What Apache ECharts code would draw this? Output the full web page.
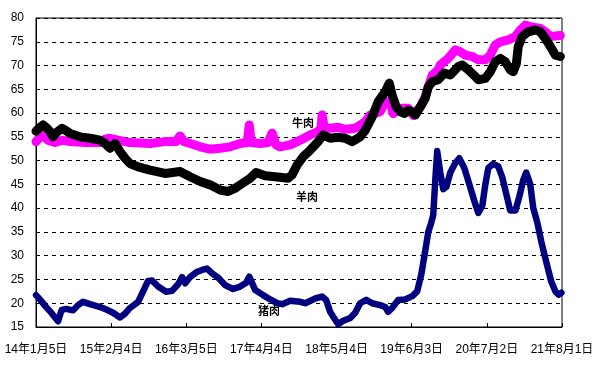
<!DOCTYPE html>
<html><head><meta charset="utf-8">
<script src="https://cdn.jsdelivr.net/npm/echarts@6/dist/echarts.min.js"></script>
<style>html,body{margin:0;padding:0;background:#fff}#c{width:612px;height:369px}</style>
</head><body><div id="c"></div>
<script>
// day offsets from 2014-01-05
const startDate = Date.UTC(2014, 0, 5);
const xTickInterval = 395; // days
const xMax = 2765;
const yTicks = [15, 80, 5];

const beefDays = [0,32,63,100,137,179,258,337,363,389,431,494,600,678,736,757,778,810,863,915,968,1020,1073,1110,1121,1131,1178,1220,1241,1262,1283,1336,1389,1441,1483,1499,1504,1515,1546,1589,1625,1678,1731,1757,1783,1809,1836,1862,1878,1899,1925,1957,1983,2020,2046,2062,2083,2114,2125,2167,2204,2230,2256,2293,2325,2362,2388,2414,2441,2483,2520,2546,2572,2598,2651,2677,2704,2756];
const beefVals = [54.0,55.4,54.3,53.8,54.3,54.0,53.8,53.8,54.5,54.7,54.3,53.8,53.6,54.0,54.0,55.2,54.0,53.6,52.9,52.4,52.6,52.9,53.6,53.8,57.5,53.8,53.6,53.8,55.8,53.3,52.9,53.3,54.3,55.4,56.1,57.0,59.6,57.0,56.8,57.0,56.6,56.8,58.2,59.6,59.9,60.3,62.4,62.4,59.9,60.6,61.0,61.0,59.5,61.3,63.4,65.5,68.0,69.1,70.1,71.5,73.3,72.9,72.2,71.9,71.2,71.2,72.2,74.3,75.0,75.4,76.1,77.5,78.5,78.2,77.8,77.1,76.1,76.3];

const muttonDays = [0,21,37,58,74,89,110,137,158,179,231,284,337,363,389,416,442,468,494,537,600,678,757,810,863,915,968,1010,1047,1073,1126,1157,1205,1283,1325,1346,1373,1404,1441,1483,1510,1546,1589,1625,1662,1704,1731,1767,1799,1836,1857,1872,1894,1915,1936,1957,1978,1994,2020,2046,2062,2083,2114,2146,2178,2220,2241,2272,2309,2325,2362,2388,2414,2441,2467,2493,2509,2525,2535,2556,2588,2625,2651,2677,2704,2730,2756];
const muttonVals = [56.2,57.0,57.5,56.8,56.1,55.0,56.0,56.8,56.3,55.7,55.0,54.7,54.3,53.6,52.6,53.6,51.9,50.5,49.4,48.7,48.0,47.3,47.7,46.6,45.6,44.9,43.8,43.5,44.2,44.9,46.3,47.5,46.8,46.5,46.3,47.0,49.1,50.8,52.2,54.0,55.4,54.7,54.9,54.7,54.0,55.0,56.4,59.2,62.4,64.5,66.3,63.8,61.3,60.3,59.9,60.6,60.3,59.6,61.3,63.1,65.5,66.6,67.0,68.4,68.0,69.8,70.1,69.1,67.7,67.0,67.3,68.7,70.8,71.5,70.8,69.1,68.7,70.4,74.0,76.1,77.1,77.5,77.1,75.7,74.0,72.2,71.9];

const porkDays = [0,21,47,74,100,116,135,158,195,221,247,284,337,379,405,442,468,494,537,563,589,610,642,684,715,747,768,784,810,842,873,899,926,957,994,1036,1073,1105,1121,1152,1194,1231,1268,1294,1336,1389,1415,1468,1504,1525,1546,1573,1589,1615,1652,1678,1704,1736,1767,1809,1836,1851,1872,1904,1941,1978,2004,2025,2046,2062,2078,2088,2099,2109,2125,2141,2157,2178,2204,2225,2251,2278,2304,2325,2346,2362,2378,2404,2430,2451,2472,2493,2520,2541,2562,2577,2598,2614,2635,2656,2677,2693,2709,2730,2746,2762];
const porkVals = [21.7,20.8,19.5,18.3,17.0,16.2,18.6,18.8,18.5,19.6,20.3,19.8,19.2,18.5,18.0,17.0,17.8,19.0,20.3,22.5,24.7,24.8,23.5,22.4,22.6,24.0,25.5,24.2,25.5,26.5,27.0,27.3,26.3,25.4,23.8,23.0,23.5,24.3,25.6,22.8,21.7,20.8,20.0,19.8,20.5,20.3,20.0,21.0,21.4,20.7,18.2,16.5,15.6,16.3,16.9,18.0,20.0,20.7,20.0,19.6,19.2,18.2,19.0,20.7,20.8,21.5,22.5,26.0,31.0,35.0,37.0,38.5,46.0,52.0,47.5,44.0,44.5,47.5,49.5,50.5,48.5,45.0,41.5,39.0,40.5,45.0,48.5,49.3,48.8,46.5,43.0,39.5,39.5,42.5,46.0,47.5,45.0,40.0,37.0,33.0,29.5,27.0,24.5,22.5,21.8,22.2];

const seriesNames = ['牛肉', '羊肉', '猪肉'];

function pairs(d, v) { return d.map((x, i) => [x, v[i]]); }
function fmtDate(val) {
  const dt = new Date(startDate + val * 86400000);
  const yy = String(dt.getUTCFullYear()).slice(2);
  return yy + '年' + (dt.getUTCMonth() + 1) + '月' + dt.getUTCDate() + '日';
}

const chart = echarts.init(document.getElementById('c'), null, {renderer: 'canvas'});
const labelFont = "'Liberation Sans Narrow','Liberation Sans','Noto Sans CJK SC',sans-serif";
chart.setOption({
  animation: false,
  backgroundColor: '#fff',
  grid: {left: 36, right: 50, top: 18, bottom: 42, show: true, borderColor: '#000', borderWidth: 1, backgroundColor: 'transparent'},
  xAxis: {
    type: 'value', min: 0, max: xMax, interval: xTickInterval,
    axisLine: {lineStyle: {color: '#000', width: 1}},
    axisTick: {show: true, inside: true, length: 4, lineStyle: {color: '#000'}},
    splitLine: {show: false},
    axisLabel: {formatter: fmtDate, color: '#000', fontSize: 12, fontFamily: labelFont, margin: 17}
  },
  yAxis: {
    type: 'value', min: yTicks[0], max: yTicks[1], interval: yTicks[2],
    axisLine: {show: true, lineStyle: {color: '#000', width: 1}},
    axisTick: {show: false},
    splitLine: {show: true, lineStyle: {color: '#000', type: [4, 4], width: 1}},
    axisLabel: {color: '#000', fontSize: 12, fontFamily: labelFont, margin: 12}
  },
  series: [
    {name: seriesNames[0], type: 'line', data: pairs(beefDays, beefVals), showSymbol: false, symbol: 'none',
     lineStyle: {color: '#FF00FF', width: 9, join: 'round', cap: 'round'}, z: 2},
    {name: seriesNames[1], type: 'line', data: pairs(muttonDays, muttonVals), showSymbol: false, symbol: 'none',
     lineStyle: {color: '#000000', width: 9, join: 'round', cap: 'round'}, z: 3},
    {name: seriesNames[2], type: 'line', data: pairs(porkDays, porkVals), showSymbol: false, symbol: 'none',
     lineStyle: {color: '#000080', width: 6.5, join: 'round', cap: 'round'}, z: 4}
  ],
  graphic: [
    {type: 'text', left: 292, top: 117, z: 10, style: {text: seriesNames[0], fill: '#000', font: "bold 11px 'Noto Sans CJK SC'"}},
    {type: 'text', left: 296, top: 191, z: 10, style: {text: seriesNames[1], fill: '#000', font: "bold 11px 'Noto Sans CJK SC'"}},
    {type: 'text', left: 258, top: 305, z: 10, style: {text: seriesNames[2], fill: '#000', font: "bold 11px 'Noto Sans CJK SC'"}}
  ]
});
</script></body></html>
